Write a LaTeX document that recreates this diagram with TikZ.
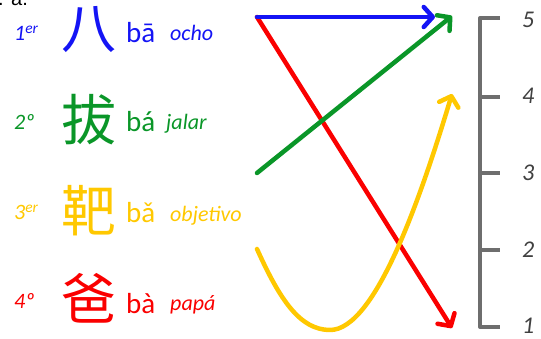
\documentclass[tikz,border=0pt]{standalone}
\usepackage{fontspec}
\setmainfont{Carlito}
\newfontfamily\cjk{Noto Sans CJK SC}
\newfontfamily\lab{Liberation Sans}
\usetikzlibrary{arrows.meta}
\definecolor{cblue}{RGB}{20,20,245}
\definecolor{cgreen}{RGB}{10,150,40}
\definecolor{cyellow}{RGB}{255,200,0}
\definecolor{cred}{RGB}{250,0,0}
\definecolor{cgray}{RGB}{110,110,110}
\tikzset{
  txt/.style={inner sep=0pt, anchor=base west},
  han/.style={inner sep=0pt, anchor=center, font=\cjk\fontsize{55}{55}\selectfont},
  ord/.style={txt, font=\itshape\fontsize{22}{22}\selectfont},
  pin/.style={txt, font=\fontsize{29}{29}\selectfont},
  mean/.style={txt, font=\itshape\fontsize{22}{22}\selectfont},
  num/.style={txt, font=\itshape\fontsize{24}{24}\selectfont, text=black!75},
  arr/.style={line width=4.5pt, line cap=round, line join=round,
    -{Straight Barb[length=9pt,width=20pt,line cap=round,line join=round]}},
}
\begin{document}
\begin{tikzpicture}[x=1pt,y=-1pt]
\useasboundingbox (0,0) rectangle (541,339);
\node[txt, font=\lab\fontsize{20}{20}\selectfont] (top) at (-2,6) {. a.};
% rows
\node[ord, text=cblue] (o1) at (14,41) {1\textsuperscript{er}};
\node[han, text=cblue] (h1) at (89,30) {八};
\node[pin, text=cblue] (p1) at (126,43) {bā};
\node[mean, text=cblue] (m1) at (170,41) {ocho};
\node[ord, text=cgreen] (o2) at (14,130) {2º};
\node[han, text=cgreen] (h2) at (89,120) {拔};
\node[pin, text=cgreen] (p2) at (126,132) {bá};
\node[mean, text=cgreen] (m2) at (166,130) {jalar};
\node[ord, text=cyellow] (o3) at (14,220) {3\textsuperscript{er}};
\node[han, text=cyellow] (h3) at (89,211) {靶};
\node[pin, text=cyellow] (p3) at (126,223) {bǎ};
\node[mean, text=cyellow] (m3) at (170,222) {objetivo};
\node[ord, text=cred] (o4) at (14,308) {4º};
\node[han, text=cred] (h4) at (89,298) {爸};
\node[pin, text=cred] (p4) at (126,313) {bà};
\node[mean, text=cred] (m4) at (170,310) {papá};
% scale
\coordinate (s5) at (480,18);
\coordinate (s4) at (480,97);
\coordinate (s3) at (480,173);
\coordinate (s2) at (480,250);
\coordinate (s1) at (480,327);
\draw[cgray, line width=4pt, line join=round]
  ([xshift=20pt]s5) -- (s5) -- (s1) -- ([xshift=20pt]s1)
  (s4) -- ([xshift=20pt]s4) (s3) -- ([xshift=20pt]s3) (s2) -- ([xshift=20pt]s2);
\node[num] (n5) at (522,28) {5};
\node[num] (n4) at (522,104) {4};
\node[num] (n3) at (522,181) {3};
\node[num] (n2) at (522,258) {2};
\node[num] (n1) at (522,333) {1};
% arrows
\coordinate (a1) at (257,17);
\coordinate (a2) at (257,173);
\coordinate (a3) at (257,249);
\coordinate (e1) at (435,17);
\coordinate (e5) at (452,16);
\coordinate (e4) at (452,94);
\coordinate (e0) at (452,328);
\coordinate (bot) at (330,330);
\draw[arr, cred] (a1) -- (e0);
\draw[arr, cblue] (a1) -- (e1);
\draw[arr, cgreen] (a2) -- (e5);
\draw[arr, cyellow] (a3) .. controls (280,300) and (300,330) .. (bot)
  .. controls (375,330) and (420,200) .. (e4);
\end{tikzpicture}
\end{document}
